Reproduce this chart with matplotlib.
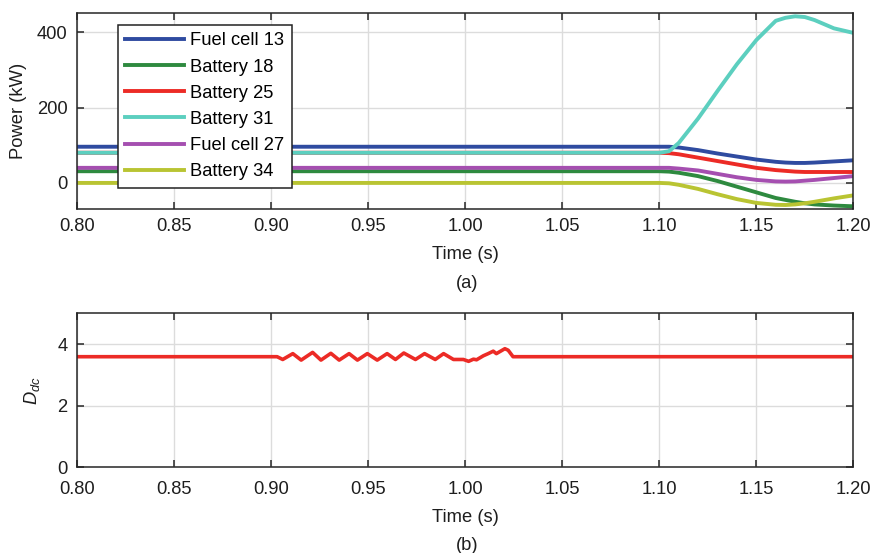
import matplotlib
matplotlib.use('Agg')
import matplotlib.pyplot as plt

plt.rcParams['font.family'] = ['Liberation Sans', 'DejaVu Sans']
plt.rcParams['mathtext.fontset'] = 'custom'
plt.rcParams['mathtext.it'] = 'Liberation Sans:italic'
plt.rcParams['mathtext.rm'] = 'Liberation Sans'

# ---- data: panel (a), power of each unit (kW)
t_a = [0.80, 1.10, 1.105, 1.11, 1.12, 1.13, 1.14, 1.15, 1.16, 1.165, 1.17, 1.175, 1.18, 1.19, 1.20]
fuel_cell_13 = [96, 96, 96, 94, 87, 78, 70, 62, 56, 54, 53, 53, 54, 57, 60]
battery_18 = [31, 31, 30, 27, 18, 5, -10, -25, -40, -45, -50, -54, -57, -60, -62]
battery_25 = [80, 80, 79, 76, 67, 58, 49, 40, 34, 32, 30, 29, 29, 29, 29]
battery_31 = [80, 80, 84, 106, 171, 244, 315, 379, 430, 438, 442, 440, 432, 410, 398]
fuel_cell_27 = [40, 40, 40, 38, 33, 24, 15, 8, 4, 3.5, 4, 6, 8, 13, 18]
battery_34 = [0, 0, -1, -5, -16, -30, -43, -53, -58, -58.5, -57, -54, -50, -41, -33]

series_names = ['Fuel cell 13', 'Battery 18', 'Battery 25', 'Battery 31', 'Fuel cell 27', 'Battery 34']
series_values = [fuel_cell_13, battery_18, battery_25, battery_31, fuel_cell_27, battery_34]
series_colors = ['#2f4ba0', '#2e8a3f', '#ec2b26', '#5ccfbf', '#a54fb0', '#b9c432']

# ---- data: panel (b), D_dc
t_b = [0.80, 0.903, 0.9059, 0.9111, 0.9154, 0.9213, 0.9256, 0.9307, 0.9350, 0.9401,
       0.9444, 0.9495, 0.9546, 0.9597, 0.9640, 0.9683, 0.9743, 0.9790, 0.9845, 0.9888,
       0.9939, 0.9990, 1.0017, 1.0042, 1.0058, 1.0093, 1.0118, 1.0144, 1.0160, 1.0204,
       1.0221, 1.0246, 1.20]
d_dc = [3.59, 3.59, 3.50, 3.69, 3.48, 3.73, 3.48, 3.70, 3.48, 3.69,
        3.48, 3.69, 3.48, 3.69, 3.50, 3.71, 3.50, 3.69, 3.50, 3.69,
        3.50, 3.50, 3.44, 3.51, 3.49, 3.62, 3.69, 3.77, 3.69, 3.85,
        3.80, 3.59, 3.59]

x_ticks = [0.80, 0.85, 0.90, 0.95, 1.00, 1.05, 1.10, 1.15, 1.20]

fig = plt.figure(figsize=(8.73, 5.53), dpi=100)
ax1 = fig.add_axes([0.0885, 0.6215, 0.889, 0.3545])
ax2 = fig.add_axes([0.0885, 0.155, 0.889, 0.2785])

txt = '#1e1e1e'
fs = 13.2

def style(ax, xpad):
    ax.set_xlim(0.80, 1.20)
    ax.set_xticks(x_ticks)
    ax.set_xticklabels(['%.2f' % v for v in x_ticks])
    ax.grid(True, color='#dcdcdc', linewidth=1.0)
    ax.set_axisbelow(True)
    ax.tick_params(direction='in', top=True, right=True, length=5, width=1.1,
                   labelsize=fs, colors='#262626', labelcolor=txt)
    ax.tick_params(axis='x', pad=xpad)
    ax.tick_params(axis='y', pad=7)
    for s in ax.spines.values():
        s.set_color('#262626')
        s.set_linewidth(1.1)

# panel (a)
for name, vals, col in zip(series_names, series_values, series_colors):
    ax1.plot(t_a, vals, color=col, linewidth=2.8, label=name, solid_joinstyle='round')
style(ax1, 6.5)
ax1.set_ylim(-70, 450)
ax1.set_yticks([0, 200, 400])
ax1.set_ylabel('Power (kW)', fontsize=fs, color=txt, labelpad=7)
ax1.set_xlabel('Time (s)', fontsize=fs, color=txt, labelpad=8)
leg = ax1.legend(loc='upper left', bbox_to_anchor=(0.0524, 0.94), borderaxespad=0,
                 fontsize=fs, frameon=True, fancybox=False, framealpha=1,
                 edgecolor='#222222', handlelength=3.2, labelspacing=0.5,
                 handletextpad=0.35, borderpad=0.4)
leg.get_frame().set_linewidth(1.1)
for line in leg.get_lines():
    line.set_linewidth(2.8)
fig.text(0.5346, 1 - 283 / 553, '(a)', fontsize=fs, color=txt, ha='center', va='center')

# panel (b)
ax2.plot(t_b, d_dc, color='#ec2b26', linewidth=2.6, solid_joinstyle='round')
style(ax2, 10)
ax2.set_ylim(0, 5)
ax2.set_yticks([0, 2, 4])
ax2.set_ylabel('$D_{dc}$', fontsize=fs, color=txt, labelpad=11)
ax2.set_xlabel('Time (s)', fontsize=fs, color=txt, labelpad=8)
fig.text(0.5346, 1 - 545 / 553, '(b)', fontsize=fs, color=txt, ha='center', va='center')

fig.savefig('out.png', dpi=100)
